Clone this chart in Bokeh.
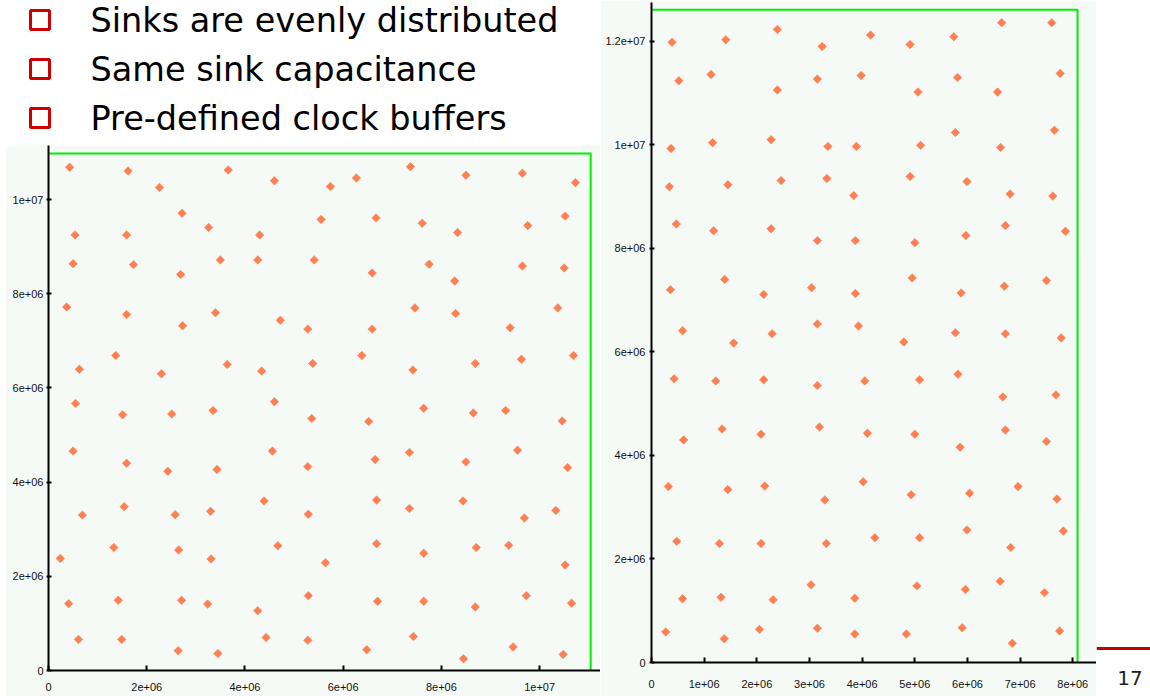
import numpy as np
from bokeh.plotting import figure
from bokeh.models import Range1d, FixedTicker, CustomJSTickFormatter, Label, BoxAnnotation, ColumnDataSource, Spacer
from bokeh.layouts import row, column
from bokeh.embed import file_html
from bokeh.resources import INLINE
from bokeh.core.properties import value

# ---------------- data ----------------
bullets = ["Sinks are evenly distributed", "Same sink capacitance", "Pre-defined clock buffers"]
page_number = "17"

# left placement (coordinates in units of 1e6)
left_x = [0.43, 1.62, 3.66, 4.60, 2.26, 2.72, 3.26, 0.54, 1.59, 4.30, 0.50, 1.73, 3.50, 4.26, 5.41, 2.69,
          0.37, 1.59, 3.40, 2.73, 4.72, 5.28, 1.37, 0.63, 2.30, 3.64, 4.34, 5.38, 0.55, 4.60, 1.51, 2.51,
          3.35, 5.36, 5.74, 6.27, 7.37, 8.50, 9.65, 10.73, 5.55, 6.67, 7.61, 8.33, 9.76, 10.52, 6.59, 7.75,
          8.27, 9.65, 10.50, 6.59, 7.46, 8.29, 9.40, 10.37, 6.38, 7.42, 8.69, 9.63, 10.69, 7.64, 8.65, 9.31,
          10.46, 6.52, 0.50, 1.59, 2.43, 3.43, 4.56, 5.28, 0.69, 1.54, 2.58, 3.30, 4.39, 5.29, 0.24, 1.33,
          2.65, 3.31, 4.67, 0.41, 1.42, 2.71, 3.24, 4.26, 5.29, 0.61, 1.49, 2.64, 3.45, 4.43, 5.28, 6.65,
          7.35, 8.50, 9.55, 10.57, 6.68, 7.35, 8.44, 9.69, 10.33, 6.68, 5.64, 7.64, 8.71, 9.37, 10.52, 6.70,
          7.64, 8.69, 9.73, 10.65, 6.48, 7.43, 8.45, 9.46, 10.48]
left_y = [10.69, 10.61, 10.63, 10.40, 10.26, 9.71, 9.41, 9.25, 9.25, 9.25, 8.64, 8.62, 8.72, 8.72, 8.72, 8.41,
          7.72, 7.56, 7.60, 7.32, 7.44, 7.25, 6.69, 6.40, 6.30, 6.50, 6.36, 6.52, 5.67, 5.71, 5.43, 5.45,
          5.52, 5.35, 10.28, 10.46, 10.70, 10.52, 10.56, 10.36, 9.58, 9.61, 9.50, 9.30, 9.45, 9.65, 8.44, 8.63,
          8.27, 8.59, 8.55, 7.25, 7.70, 7.58, 7.28, 7.70, 6.69, 6.38, 6.52, 6.61, 6.69, 5.57, 5.47, 5.52,
          5.30, 5.29, 4.66, 4.40, 4.23, 4.27, 4.66, 4.33, 3.30, 3.48, 3.31, 3.38, 3.60, 3.32, 2.38, 2.61,
          2.56, 2.37, 2.65, 1.42, 1.49, 1.49, 1.41, 1.27, 1.59, 0.66, 0.66, 0.42, 0.36, 0.70, 0.64, 4.48,
          4.63, 4.43, 4.68, 4.31, 3.62, 3.44, 3.60, 3.24, 3.40, 2.69, 2.29, 2.49, 2.61, 2.66, 2.24, 1.47,
          1.47, 1.35, 1.59, 1.43, 0.44, 0.72, 0.25, 0.50, 0.34]
left_die_w, left_die_h = 11.04, 10.98
left_x_ticks = [0, 2, 4, 6, 8, 10]
left_x_labels = ["0", "2e+06", "4e+06", "6e+06", "8e+06", "1e+07"]
left_y_ticks = [0, 2, 4, 6, 8, 10]
left_y_labels = ["0", "2e+06", "4e+06", "6e+06", "8e+06", "1e+07"]

# right placement (coordinates in units of 1e6)
right_x = [0.39, 1.41, 2.39, 3.24, 4.16, 4.91, 5.74, 6.65, 7.60,
           0.52, 1.13, 2.39, 3.15, 3.98, 5.06, 5.81, 6.57, 7.76,
           0.37, 1.16, 2.27, 3.35, 3.89, 5.11, 5.77, 6.63, 7.65,
           0.34, 1.45, 2.46, 3.33, 3.84, 4.91, 5.99, 6.81, 7.62,
           0.47, 1.18, 2.27, 3.15, 3.87, 5.00, 5.97, 6.72, 7.86,
           0.36, 1.39, 2.13, 3.04, 3.87, 4.95, 5.88, 6.70, 7.50,
           0.59, 1.56, 2.29, 3.15, 3.93, 4.79, 5.77, 6.72, 7.78,
           0.43, 1.22, 2.13, 3.15, 4.05, 5.09, 5.82, 6.67, 7.68,
           0.61, 1.34, 2.08, 3.19, 4.10, 5.00, 5.86, 6.72, 7.50,
           0.32, 1.45, 2.15, 3.29, 4.02, 4.93, 6.04, 6.96, 7.70,
           0.48, 1.29, 2.08, 3.32, 4.24, 5.09, 5.99, 6.82, 7.82,
           0.59, 1.32, 2.31, 3.03, 3.86, 5.04, 5.96, 6.62, 7.46,
           0.27, 1.38, 2.05, 3.15, 3.86, 4.84, 5.90, 6.85, 7.75]
right_y = [11.98, 12.03, 12.23, 11.90, 12.12, 11.94, 12.09, 12.36, 12.36,
           11.24, 11.36, 11.06, 11.27, 11.34, 11.02, 11.30, 11.02, 11.38,
           9.93, 10.04, 10.10, 9.97, 9.97, 9.99, 10.24, 9.95, 10.28,
           9.19, 9.23, 9.31, 9.35, 9.02, 9.39, 9.29, 9.05, 9.01,
           8.47, 8.34, 8.38, 8.15, 8.15, 8.11, 8.25, 8.44, 8.33,
           7.20, 7.40, 7.11, 7.24, 7.13, 7.43, 7.14, 7.27, 7.38,
           6.41, 6.17, 6.35, 6.54, 6.50, 6.19, 6.37, 6.35, 6.27,
           5.48, 5.44, 5.46, 5.35, 5.44, 5.46, 5.57, 5.13, 5.17,
           4.30, 4.51, 4.41, 4.55, 4.43, 4.41, 4.16, 4.49, 4.27,
           3.40, 3.34, 3.41, 3.14, 3.49, 3.24, 3.27, 3.40, 3.16,
           2.34, 2.30, 2.30, 2.30, 2.41, 2.41, 2.56, 2.22, 2.54,
           1.23, 1.26, 1.21, 1.50, 1.24, 1.48, 1.41, 1.57, 1.35,
           0.59, 0.46, 0.64, 0.66, 0.55, 0.55, 0.67, 0.37, 0.61]
right_die_w, right_die_h = 8.09, 12.61
right_x_ticks = [0, 1, 2, 3, 4, 5, 6, 7, 8]
right_x_labels = ["0", "1e+06", "2e+06", "3e+06", "4e+06", "5e+06", "6e+06", "7e+06", "8e+06"]
right_y_ticks = [0, 2, 4, 6, 8, 10, 12]
right_y_labels = ["0", "2e+06", "4e+06", "6e+06", "8e+06", "1e+07", "1.2e+07"]

# ---------------- style ----------------
MINT = "#f5faf6"
ORANGE = "#ff7f50"
GREEN = "#00ee00"
RED = "#cc0000"
TICK_FONT = "Liberation Sans"


def tick_formatter(ticks, labels):
    return CustomJSTickFormatter(args=dict(t=ticks, l=labels), code="""
for (let i = 0; i < t.length; i++) { if (Math.abs(t[i] - tick) < 1e-6) { return l[i]; } }
return "";
""")


def make_plot(width, height, xr, yr, borders, xs, ys, die_w, die_h,
              xt, xl, yt, yl, x_standoff, y_standoff):
    bl, br, bt, bb = borders
    p = figure(width=width, height=height, x_range=Range1d(*xr), y_range=Range1d(*yr),
               output_backend="svg", toolbar_location=None,
               min_border_left=bl, min_border_right=br, min_border_top=bt, min_border_bottom=bb)
    p.background_fill_color = MINT
    p.border_fill_color = MINT
    p.outline_line_color = None
    p.grid.visible = False
    for ax, ticks, labels, standoff, tin, tout in ((p.xaxis[0], xt, xl, x_standoff, 5, 0),
                                                    (p.yaxis[0], yt, yl, y_standoff, 3, 2)):
        ax.ticker = FixedTicker(ticks=ticks, minor_ticks=[])
        ax.formatter = tick_formatter(ticks, labels)
        ax.axis_line_width = 2
        ax.axis_line_color = "black"
        ax.major_tick_line_width = 2
        ax.major_tick_line_color = "black"
        ax.major_tick_in = tin
        ax.major_tick_out = tout
        ax.minor_tick_line_color = None
        ax.major_label_standoff = standoff
        ax.major_label_text_font = TICK_FONT
        ax.major_label_text_font_size = "11px"
        ax.major_label_text_color = "#111111"
    box = ColumnDataSource(dict(x=[0, die_w, die_w], y=[die_h, die_h, 0]))
    p.line("x", "y", source=box, line_color=GREEN, line_width=2)
    src = ColumnDataSource(dict(x=xs, y=ys))
    p.scatter("x", "y", source=src, marker="square", size=6, angle=np.pi / 4,
              fill_color=ORANGE, line_color=ORANGE, line_width=0.6)
    return p


# bullet text area
tf = figure(width=600, height=145, x_range=Range1d(0, 600), y_range=Range1d(145, 0),
            x_axis_type=None, y_axis_type=None, output_backend="svg", toolbar_location=None,
            min_border=0, min_border_left=0, min_border_right=0, min_border_top=0, min_border_bottom=0)
tf.outline_line_color = None
tf.grid.visible = False
centers = [19.5 + 49 * i for i in range(len(bullets))]
tf.scatter(x=[39.5] * len(bullets), y=centers, marker="square", size=19,
           fill_color=None, line_color=RED, line_width=3)
tf.text(x=[90] * len(bullets), y=centers, text=bullets,
        text_font=value("DejaVu Sans"), text_font_size="33.5px",
        text_baseline="alphabetic", text_align="left", text_color="black")

left = make_plot(595, 551, (0, 11.24), (0, 11.15), (43, 0, 0, 26),
                 left_x, left_y, left_die_w, left_die_h,
                 left_x_ticks, left_x_labels, left_y_ticks, left_y_labels, 12, 3)

right = make_plot(496, 696, (0, 8.45), (0, 12.75), (51, 0, 2, 34),
                  right_x, right_y, right_die_w, right_die_h,
                  right_x_ticks, right_x_labels, right_y_ticks, right_y_labels, 17, 4)

side = figure(width=54, height=696, x_range=Range1d(0, 54), y_range=Range1d(696, 0),
              x_axis_type=None, y_axis_type=None, output_backend="svg", toolbar_location=None,
              min_border=0, min_border_left=0, min_border_right=0, min_border_top=0, min_border_bottom=0)
side.outline_line_color = None
side.grid.visible = False
side.add_layout(BoxAnnotation(top=646.5, bottom=649.5, fill_color="#c00000", fill_alpha=1.0,
                              line_color=None))
side.add_layout(Label(x=33.5, y=677, text=page_number, text_align="center",
                      text_baseline="alphabetic", text_font="DejaVu Sans",
                      text_font_size="20px", text_color="#222222"))

layout = row(column(row(tf), row(Spacer(width=5, height=551), left)), row(right), row(side))

with open("out.html", "w") as f:
    f.write(file_html(layout, INLINE))
